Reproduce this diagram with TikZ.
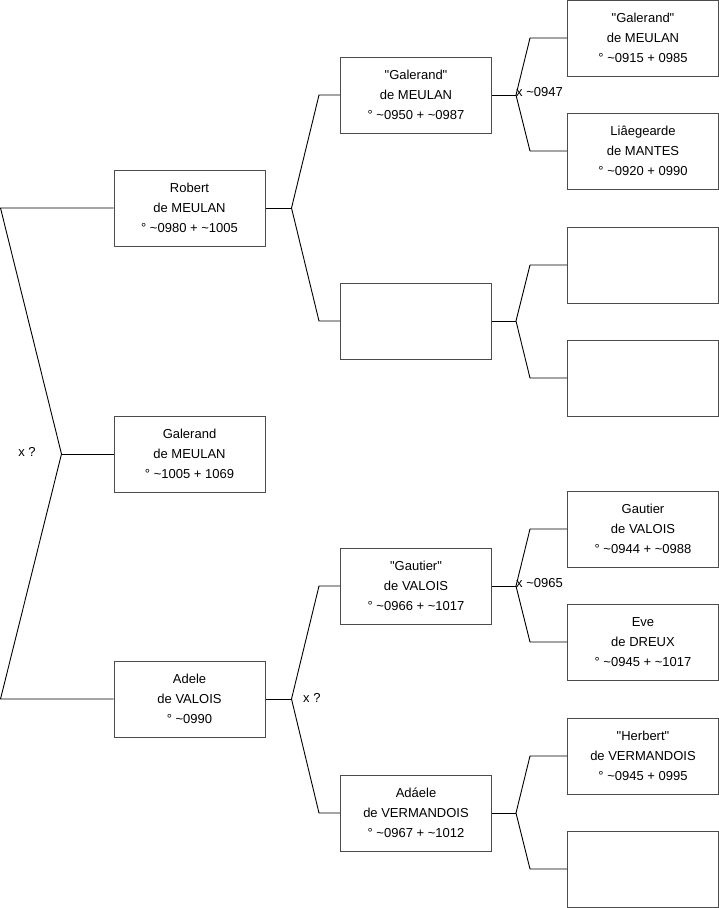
\documentclass[tikz,border=0pt]{standalone}
\usepackage{fontspec}
\setmainfont{Liberation Sans}
\usetikzlibrary{positioning}

\newcommand{\tld}{\textasciitilde}
\newcommand{\qt}[1]{\textquotedbl#1\textquotedbl}

\begin{document}
\begin{tikzpicture}[
  x=1pt, y=-1pt,
  font=\fontsize{13}{20}\selectfont,
  person/.style={draw=black!70, line width=1pt, fill=white, align=center, minimum width=151pt, minimum height=76pt, inner sep=2pt},
  link/.style={draw=black, line width=0.9pt},
  union/.style={font=\fontsize{13}{16}\selectfont, inner sep=1pt}
]
\useasboundingbox (0,0) rectangle (719,908);

% generation 1
\node[person] (robert) at (189.5,208) {Robert\\de MEULAN\\° \tld0980 + \tld1005};
\node[person] (galerand) at (189.5,454) {Galerand\\de MEULAN\\° \tld1005 + 1069};
\node[person] (adele) at (189.5,699) {Adele\\de VALOIS\\° \tld0990};

% generation 2
\node[person] (galerandB) at (416,95) {\qt{Galerand}\\de MEULAN\\° \tld0950 + \tld0987};
\node[person] (unknownA) at (416,321) {};
\node[person] (gautierB) at (416,586) {\qt{Gautier}\\de VALOIS\\° \tld0966 + \tld1017};
\node[person] (adaele) at (416,813) {Adáele\\de VERMANDOIS\\° \tld0967 + \tld1012};

% generation 3
\node[person] (galerandC) at (643,38) {\qt{Galerand}\\de MEULAN\\° \tld0915 + 0985};
\node[person] (liegearde) at (643,151) {Liâegearde\\de MANTES\\° \tld0920 + 0990};
\node[person] (unknownB) at (643,265) {};
\node[person] (unknownC) at (643,378) {};
\node[person] (gautierC) at (643,529) {Gautier\\de VALOIS\\° \tld0944 + \tld0988};
\node[person] (eve) at (643,642) {Eve\\de DREUX\\° \tld0945 + \tld1017};
\node[person] (herbert) at (643,756) {\qt{Herbert}\\de VERMANDOIS\\° \tld0945 + 0995};
\node[person] (unknownD) at (643,869) {};

% parents of Galerand
\draw[link] (galerand.west) -- ++(-52,0) coordinate (j0);
\draw[link] (robert.west) -- ++(-113,0) -- (j0);
\draw[link] (adele.west) -- ++(-113,0) -- (j0);
\node[union] (u0) at (27,452) {x ?};

% parents of Robert
\draw[link] (robert.east) -- ++(26,0) coordinate (j1);
\draw[link] (galerandB.west) -- ++(-21,0) -- (j1);
\draw[link] (unknownA.west) -- ++(-21,0) -- (j1);

% parents of Adele
\draw[link] (adele.east) -- ++(26,0) coordinate (j2);
\draw[link] (gautierB.west) -- ++(-21,0) -- (j2);
\draw[link] (adaele.west) -- ++(-21,0) -- (j2);
\node[union, anchor=west] (u2) at (302,698) {x ?};

% parents of "Galerand"
\draw[link] (galerandB.east) -- ++(24,0) coordinate (j3);
\draw[link] (galerandC.west) -- ++(-37,0) -- (j3);
\draw[link] (liegearde.west) -- ++(-37,0) -- (j3);
\node[union, anchor=west] (u3) at (515,92) {x \tld0947};

% parents of the unknown
\draw[link] (unknownA.east) -- ++(24,0) coordinate (j4);
\draw[link] (unknownB.west) -- ++(-37,0) -- (j4);
\draw[link] (unknownC.west) -- ++(-37,0) -- (j4);

% parents of "Gautier"
\draw[link] (gautierB.east) -- ++(24,0) coordinate (j5);
\draw[link] (gautierC.west) -- ++(-37,0) -- (j5);
\draw[link] (eve.west) -- ++(-37,0) -- (j5);
\node[union, anchor=west] (u5) at (515,583) {x \tld0965};

% parents of Adaele
\draw[link] (adaele.east) -- ++(24,0) coordinate (j6);
\draw[link] (herbert.west) -- ++(-37,0) -- (j6);
\draw[link] (unknownD.west) -- ++(-37,0) -- (j6);
\end{tikzpicture}
\end{document}
